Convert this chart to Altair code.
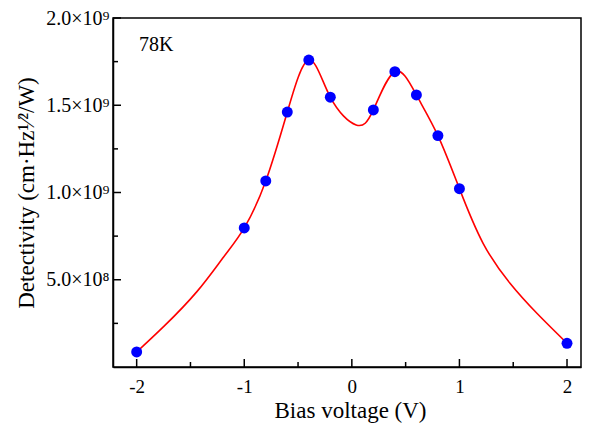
import altair as alt
import pandas as pd

# measured data points (bias voltage V, detectivity)
point_x = [-2.0, -1.0, -0.8, -0.6, -0.4, -0.2, 0.2, 0.4, 0.6, 0.8, 1.0, 2.0]
point_y = [0.086e9, 0.797e9, 1.066e9, 1.461e9, 1.759e9, 1.546e9,
           1.473e9, 1.692e9, 1.559e9, 1.326e9, 1.022e9, 0.136e9]

# fitted red curve
curve_x = [-2.0, -1.75, -1.44, -1.19, -1.0, -0.8, -0.6, -0.4, -0.2, 0.04,
           0.2, 0.4, 0.6, 0.8, 1.0, 1.22, 1.47, 1.72, 2.0]
curve_y = [0.086e9, 0.231e9, 0.432e9, 0.632e9, 0.797e9, 1.066e9, 1.461e9,
           1.759e9, 1.546e9, 1.387e9, 1.473e9, 1.692e9, 1.559e9, 1.326e9,
           1.022e9, 0.709e9, 0.480e9, 0.308e9, 0.136e9]

x_major = [-2, -1, 0, 1, 2]
x_minor = [-1.5, -0.5, 0.5, 1.5]
y_major = [5e8, 1e9, 1.5e9, 2e9]
y_major_labels = ["5.0×10⁸", "1.0×10⁹", "1.5×10⁹", "2.0×10⁹"]
y_minor = [2.5e8, 7.5e8, 1.25e9, 1.75e9]

x_title = "Bias voltage (V)"
y_title = "Detectivity (cm·Hz¹⁄²/W)"
annotation = "78K"

FONT = "Liberation Serif"
W, H = 468, 349

xs = alt.Scale(domain=[-2.22, 2.13], nice=False, zero=False)
ys = alt.Scale(domain=[0, 2e9], nice=False, zero=False)

pts = pd.DataFrame({"x": point_x, "y": point_y})
crv = pd.DataFrame({"x": curve_x, "y": curve_y})

ylab_expr = ""
for v, lab in zip(y_major, y_major_labels):
    ylab_expr += f"datum.value == {int(v)} ? '{lab}' : "
ylab_expr += "''"

x_axis = alt.Axis(values=x_major, labelExpr="'' + datum.value", ticks=False,
                  tickSize=0, grid=False, domainColor="black", domainWidth=1.5,
                  labelFont=FONT, labelFontSize=19, labelColor="black",
                  labelPadding=10, title=x_title, titleFont=FONT,
                  titleFontSize=23, titleFontWeight="normal", titleColor="black",
                  titleBaseline="alphabetic", titleY=50, titleX=W / 2 + 3)
y_axis = alt.Axis(values=y_major, labelExpr=ylab_expr, ticks=False, tickSize=0,
                  grid=False, domainColor="black", domainWidth=1.5,
                  labelFont=FONT, labelFontSize=20, labelColor="black",
                  labelPadding=4, title=y_title, titleFont=FONT,
                  titleFontSize=23, titleFontWeight="normal", titleColor="black",
                  titleBaseline="alphabetic", titleAngle=270, titleX=-80,
                  titleY=H / 2)

line = alt.Chart(crv).mark_line(color="#ff0000", strokeWidth=1.6,
                                interpolate="natural").encode(
    x=alt.X("x:Q", scale=xs, axis=x_axis),
    y=alt.Y("y:Q", scale=ys, axis=y_axis),
)
dots = alt.Chart(pts).mark_point(filled=True, color="#0000ff", size=120,
                                 opacity=1).encode(
    x=alt.X("x:Q", scale=xs),
    y=alt.Y("y:Q", scale=ys),
)

def xticks(vals, length):
    return alt.Chart(pd.DataFrame({"x": vals})).mark_rule(
        color="black", strokeWidth=1.5).encode(
        x=alt.X("x:Q", scale=xs),
        y=alt.value(H), y2=alt.value(H - length))

def yticks(vals, length):
    return alt.Chart(pd.DataFrame({"y": vals})).mark_rule(
        color="black", strokeWidth=1.5).encode(
        y=alt.Y("y:Q", scale=ys),
        x=alt.value(0), x2=alt.value(length))

label = alt.Chart(pd.DataFrame({"t": [annotation]})).mark_text(
    font=FONT, fontSize=20, align="left", baseline="alphabetic",
    color="black").encode(text="t:N", x=alt.value(26), y=alt.value(33))

chart = alt.layer(
    line, dots,
    xticks(x_major, 8), xticks(x_minor, 5),
    yticks(y_major, 8), yticks(y_minor, 5),
    label,
).properties(
    width=W, height=H,
    autosize=alt.AutoSizeParams(type="none"),
    padding={"left": 105, "top": 10, "right": 1, "bottom": 56},
    background="white",
).configure_view(stroke="black", strokeWidth=1.5)

chart.save("out.html", embed_options={"renderer": "svg", "actions": False})
